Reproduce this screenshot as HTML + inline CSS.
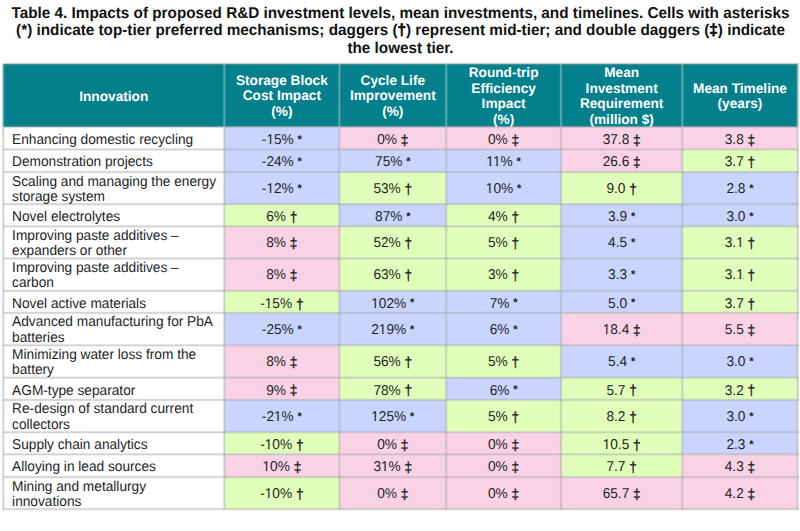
<!DOCTYPE html><html><head><meta charset="utf-8"><style>html,body{margin:0;padding:0;background:#fff;overflow:hidden}svg{display:block}text{font-family:"Liberation Sans",sans-serif;text-rendering:geometricPrecision}</style></head><body>
<svg width="800" height="531" viewBox="0 0 800 531">
<rect width="800" height="531" fill="#fff"/>
<text transform="translate(400.50,17.90) scale(0.9745,1)" text-anchor="middle" font-weight="bold" font-size="15.7" fill="#111111">Table 4. Impacts of proposed R&amp;D investment levels, mean investments, and timelines. Cells with asterisks</text>
<text transform="translate(400.50,35.10) scale(0.9745,1)" text-anchor="middle" font-weight="bold" font-size="15.7" fill="#111111">(*) indicate top-tier preferred mechanisms; daggers (<tspan stroke="#111111" stroke-width="0.7">†</tspan>) represent mid-tier; and double daggers (<tspan stroke="#111111" stroke-width="0.7">‡</tspan>) indicate</text>
<text transform="translate(400.50,52.50) scale(0.9745,1)" text-anchor="middle" font-weight="bold" font-size="15.7" fill="#111111">the lowest tier.</text>
<rect x="2.7" y="63.9" width="795.4" height="63.00000000000001" fill="#03808c"/>
<rect x="224.3" y="126.9" width="115.10" height="22.50" fill="#c9d5ff"/>
<rect x="339.4" y="126.9" width="106.80" height="22.50" fill="#f9d3e5"/>
<rect x="446.2" y="126.9" width="114.80" height="22.50" fill="#f9d3e5"/>
<rect x="561.0" y="126.9" width="121.30" height="22.50" fill="#f9d3e5"/>
<rect x="682.3" y="126.9" width="115.30" height="22.50" fill="#f9d3e5"/>
<rect x="224.3" y="149.4" width="115.10" height="22.70" fill="#c9d5ff"/>
<rect x="339.4" y="149.4" width="106.80" height="22.70" fill="#c9d5ff"/>
<rect x="446.2" y="149.4" width="114.80" height="22.70" fill="#c9d5ff"/>
<rect x="561.0" y="149.4" width="121.30" height="22.70" fill="#f9d3e5"/>
<rect x="682.3" y="149.4" width="115.30" height="22.70" fill="#e0ffba"/>
<rect x="224.3" y="172.1" width="115.10" height="32.10" fill="#c9d5ff"/>
<rect x="339.4" y="172.1" width="106.80" height="32.10" fill="#e0ffba"/>
<rect x="446.2" y="172.1" width="114.80" height="32.10" fill="#c9d5ff"/>
<rect x="561.0" y="172.1" width="121.30" height="32.10" fill="#e0ffba"/>
<rect x="682.3" y="172.1" width="115.30" height="32.10" fill="#c9d5ff"/>
<rect x="224.3" y="204.2" width="115.10" height="22.10" fill="#e0ffba"/>
<rect x="339.4" y="204.2" width="106.80" height="22.10" fill="#c9d5ff"/>
<rect x="446.2" y="204.2" width="114.80" height="22.10" fill="#e0ffba"/>
<rect x="561.0" y="204.2" width="121.30" height="22.10" fill="#c9d5ff"/>
<rect x="682.3" y="204.2" width="115.30" height="22.10" fill="#c9d5ff"/>
<rect x="224.3" y="226.3" width="115.10" height="32.20" fill="#f9d3e5"/>
<rect x="339.4" y="226.3" width="106.80" height="32.20" fill="#e0ffba"/>
<rect x="446.2" y="226.3" width="114.80" height="32.20" fill="#e0ffba"/>
<rect x="561.0" y="226.3" width="121.30" height="32.20" fill="#c9d5ff"/>
<rect x="682.3" y="226.3" width="115.30" height="32.20" fill="#e0ffba"/>
<rect x="224.3" y="258.5" width="115.10" height="32.30" fill="#f9d3e5"/>
<rect x="339.4" y="258.5" width="106.80" height="32.30" fill="#e0ffba"/>
<rect x="446.2" y="258.5" width="114.80" height="32.30" fill="#e0ffba"/>
<rect x="561.0" y="258.5" width="121.30" height="32.30" fill="#c9d5ff"/>
<rect x="682.3" y="258.5" width="115.30" height="32.30" fill="#e0ffba"/>
<rect x="224.3" y="290.8" width="115.10" height="22.10" fill="#e0ffba"/>
<rect x="339.4" y="290.8" width="106.80" height="22.10" fill="#c9d5ff"/>
<rect x="446.2" y="290.8" width="114.80" height="22.10" fill="#c9d5ff"/>
<rect x="561.0" y="290.8" width="121.30" height="22.10" fill="#c9d5ff"/>
<rect x="682.3" y="290.8" width="115.30" height="22.10" fill="#e0ffba"/>
<rect x="224.3" y="312.9" width="115.10" height="32.40" fill="#c9d5ff"/>
<rect x="339.4" y="312.9" width="106.80" height="32.40" fill="#c9d5ff"/>
<rect x="446.2" y="312.9" width="114.80" height="32.40" fill="#c9d5ff"/>
<rect x="561.0" y="312.9" width="121.30" height="32.40" fill="#f9d3e5"/>
<rect x="682.3" y="312.9" width="115.30" height="32.40" fill="#f9d3e5"/>
<rect x="224.3" y="345.3" width="115.10" height="32.40" fill="#f9d3e5"/>
<rect x="339.4" y="345.3" width="106.80" height="32.40" fill="#e0ffba"/>
<rect x="446.2" y="345.3" width="114.80" height="32.40" fill="#e0ffba"/>
<rect x="561.0" y="345.3" width="121.30" height="32.40" fill="#c9d5ff"/>
<rect x="682.3" y="345.3" width="115.30" height="32.40" fill="#c9d5ff"/>
<rect x="224.3" y="377.7" width="115.10" height="22.20" fill="#f9d3e5"/>
<rect x="339.4" y="377.7" width="106.80" height="22.20" fill="#e0ffba"/>
<rect x="446.2" y="377.7" width="114.80" height="22.20" fill="#c9d5ff"/>
<rect x="561.0" y="377.7" width="121.30" height="22.20" fill="#e0ffba"/>
<rect x="682.3" y="377.7" width="115.30" height="22.20" fill="#e0ffba"/>
<rect x="224.3" y="399.9" width="115.10" height="32.30" fill="#c9d5ff"/>
<rect x="339.4" y="399.9" width="106.80" height="32.30" fill="#c9d5ff"/>
<rect x="446.2" y="399.9" width="114.80" height="32.30" fill="#e0ffba"/>
<rect x="561.0" y="399.9" width="121.30" height="32.30" fill="#e0ffba"/>
<rect x="682.3" y="399.9" width="115.30" height="32.30" fill="#c9d5ff"/>
<rect x="224.3" y="432.2" width="115.10" height="22.10" fill="#e0ffba"/>
<rect x="339.4" y="432.2" width="106.80" height="22.10" fill="#f9d3e5"/>
<rect x="446.2" y="432.2" width="114.80" height="22.10" fill="#f9d3e5"/>
<rect x="561.0" y="432.2" width="121.30" height="22.10" fill="#e0ffba"/>
<rect x="682.3" y="432.2" width="115.30" height="22.10" fill="#c9d5ff"/>
<rect x="224.3" y="454.3" width="115.10" height="22.80" fill="#f9d3e5"/>
<rect x="339.4" y="454.3" width="106.80" height="22.80" fill="#f9d3e5"/>
<rect x="446.2" y="454.3" width="114.80" height="22.80" fill="#f9d3e5"/>
<rect x="561.0" y="454.3" width="121.30" height="22.80" fill="#e0ffba"/>
<rect x="682.3" y="454.3" width="115.30" height="22.80" fill="#f9d3e5"/>
<rect x="224.3" y="477.1" width="115.10" height="32.00" fill="#e0ffba"/>
<rect x="339.4" y="477.1" width="106.80" height="32.00" fill="#f9d3e5"/>
<rect x="446.2" y="477.1" width="114.80" height="32.00" fill="#f9d3e5"/>
<rect x="561.0" y="477.1" width="121.30" height="32.00" fill="#f9d3e5"/>
<rect x="682.3" y="477.1" width="115.30" height="32.00" fill="#f9d3e5"/>
<g shape-rendering="crispEdges">
<rect x="3" y="125" width="796" height="1" fill="#a5a5a5" fill-opacity="0.096"/>
<rect x="3" y="126" width="796" height="1" fill="#a5a5a5" fill-opacity="0.458"/>
<rect x="3" y="127" width="796" height="1" fill="#a5a5a5" fill-opacity="0.385"/>
<rect x="3" y="128" width="796" height="1" fill="#a5a5a5" fill-opacity="0.057"/>
<rect x="3" y="147" width="796" height="1" fill="#a5a5a5" fill-opacity="0.022"/>
<rect x="3" y="148" width="796" height="1" fill="#a5a5a5" fill-opacity="0.261"/>
<rect x="3" y="149" width="796" height="1" fill="#a5a5a5" fill-opacity="0.520"/>
<rect x="3" y="150" width="796" height="1" fill="#a5a5a5" fill-opacity="0.185"/>
<rect x="3" y="170" width="796" height="1" fill="#a5a5a5" fill-opacity="0.057"/>
<rect x="3" y="171" width="796" height="1" fill="#a5a5a5" fill-opacity="0.385"/>
<rect x="3" y="172" width="796" height="1" fill="#a5a5a5" fill-opacity="0.458"/>
<rect x="3" y="173" width="796" height="1" fill="#a5a5a5" fill-opacity="0.096"/>
<rect x="3" y="202" width="796" height="1" fill="#a5a5a5" fill-opacity="0.042"/>
<rect x="3" y="203" width="796" height="1" fill="#a5a5a5" fill-opacity="0.344"/>
<rect x="3" y="204" width="796" height="1" fill="#a5a5a5" fill-opacity="0.486"/>
<rect x="3" y="205" width="796" height="1" fill="#a5a5a5" fill-opacity="0.121"/>
<rect x="3" y="224" width="796" height="1" fill="#a5a5a5" fill-opacity="0.031"/>
<rect x="3" y="225" width="796" height="1" fill="#a5a5a5" fill-opacity="0.302"/>
<rect x="3" y="226" width="796" height="1" fill="#a5a5a5" fill-opacity="0.507"/>
<rect x="3" y="227" width="796" height="1" fill="#a5a5a5" fill-opacity="0.151"/>
<rect x="3" y="257" width="796" height="1" fill="#a5a5a5" fill-opacity="0.221"/>
<rect x="3" y="258" width="796" height="1" fill="#a5a5a5" fill-opacity="0.525"/>
<rect x="3" y="259" width="796" height="1" fill="#a5a5a5" fill-opacity="0.221"/>
<rect x="3" y="289" width="796" height="1" fill="#a5a5a5" fill-opacity="0.121"/>
<rect x="3" y="290" width="796" height="1" fill="#a5a5a5" fill-opacity="0.486"/>
<rect x="3" y="291" width="796" height="1" fill="#a5a5a5" fill-opacity="0.344"/>
<rect x="3" y="292" width="796" height="1" fill="#a5a5a5" fill-opacity="0.042"/>
<rect x="3" y="311" width="796" height="1" fill="#a5a5a5" fill-opacity="0.096"/>
<rect x="3" y="312" width="796" height="1" fill="#a5a5a5" fill-opacity="0.458"/>
<rect x="3" y="313" width="796" height="1" fill="#a5a5a5" fill-opacity="0.385"/>
<rect x="3" y="314" width="796" height="1" fill="#a5a5a5" fill-opacity="0.057"/>
<rect x="3" y="343" width="796" height="1" fill="#a5a5a5" fill-opacity="0.031"/>
<rect x="3" y="344" width="796" height="1" fill="#a5a5a5" fill-opacity="0.302"/>
<rect x="3" y="345" width="796" height="1" fill="#a5a5a5" fill-opacity="0.507"/>
<rect x="3" y="346" width="796" height="1" fill="#a5a5a5" fill-opacity="0.151"/>
<rect x="3" y="376" width="796" height="1" fill="#a5a5a5" fill-opacity="0.151"/>
<rect x="3" y="377" width="796" height="1" fill="#a5a5a5" fill-opacity="0.507"/>
<rect x="3" y="378" width="796" height="1" fill="#a5a5a5" fill-opacity="0.302"/>
<rect x="3" y="379" width="796" height="1" fill="#a5a5a5" fill-opacity="0.031"/>
<rect x="3" y="398" width="796" height="1" fill="#a5a5a5" fill-opacity="0.096"/>
<rect x="3" y="399" width="796" height="1" fill="#a5a5a5" fill-opacity="0.458"/>
<rect x="3" y="400" width="796" height="1" fill="#a5a5a5" fill-opacity="0.385"/>
<rect x="3" y="401" width="796" height="1" fill="#a5a5a5" fill-opacity="0.057"/>
<rect x="3" y="430" width="796" height="1" fill="#a5a5a5" fill-opacity="0.042"/>
<rect x="3" y="431" width="796" height="1" fill="#a5a5a5" fill-opacity="0.344"/>
<rect x="3" y="432" width="796" height="1" fill="#a5a5a5" fill-opacity="0.486"/>
<rect x="3" y="433" width="796" height="1" fill="#a5a5a5" fill-opacity="0.121"/>
<rect x="3" y="452" width="796" height="1" fill="#a5a5a5" fill-opacity="0.031"/>
<rect x="3" y="453" width="796" height="1" fill="#a5a5a5" fill-opacity="0.302"/>
<rect x="3" y="454" width="796" height="1" fill="#a5a5a5" fill-opacity="0.507"/>
<rect x="3" y="455" width="796" height="1" fill="#a5a5a5" fill-opacity="0.151"/>
<rect x="3" y="475" width="796" height="1" fill="#a5a5a5" fill-opacity="0.057"/>
<rect x="3" y="476" width="796" height="1" fill="#a5a5a5" fill-opacity="0.385"/>
<rect x="3" y="477" width="796" height="1" fill="#a5a5a5" fill-opacity="0.458"/>
<rect x="3" y="478" width="796" height="1" fill="#a5a5a5" fill-opacity="0.096"/>
<rect x="3" y="507" width="796" height="1" fill="#a5a5a5" fill-opacity="0.057"/>
<rect x="3" y="508" width="796" height="1" fill="#a5a5a5" fill-opacity="0.385"/>
<rect x="3" y="509" width="796" height="1" fill="#a5a5a5" fill-opacity="0.458"/>
<rect x="3" y="510" width="796" height="1" fill="#a5a5a5" fill-opacity="0.096"/>
<rect x="1" y="127" width="1" height="383" fill="#a5a5a5" fill-opacity="0.042"/>
<rect x="2" y="127" width="1" height="383" fill="#a5a5a5" fill-opacity="0.344"/>
<rect x="3" y="127" width="1" height="383" fill="#a5a5a5" fill-opacity="0.486"/>
<rect x="4" y="127" width="1" height="383" fill="#a5a5a5" fill-opacity="0.121"/>
<rect x="222" y="127" width="1" height="383" fill="#a5a5a5" fill-opacity="0.031"/>
<rect x="223" y="127" width="1" height="383" fill="#a5a5a5" fill-opacity="0.302"/>
<rect x="224" y="127" width="1" height="383" fill="#a5a5a5" fill-opacity="0.507"/>
<rect x="225" y="127" width="1" height="383" fill="#a5a5a5" fill-opacity="0.151"/>
<rect x="337" y="127" width="1" height="383" fill="#a5a5a5" fill-opacity="0.022"/>
<rect x="338" y="127" width="1" height="383" fill="#a5a5a5" fill-opacity="0.261"/>
<rect x="339" y="127" width="1" height="383" fill="#a5a5a5" fill-opacity="0.520"/>
<rect x="340" y="127" width="1" height="383" fill="#a5a5a5" fill-opacity="0.185"/>
<rect x="444" y="127" width="1" height="383" fill="#a5a5a5" fill-opacity="0.042"/>
<rect x="445" y="127" width="1" height="383" fill="#a5a5a5" fill-opacity="0.344"/>
<rect x="446" y="127" width="1" height="383" fill="#a5a5a5" fill-opacity="0.486"/>
<rect x="447" y="127" width="1" height="383" fill="#a5a5a5" fill-opacity="0.121"/>
<rect x="559" y="127" width="1" height="383" fill="#a5a5a5" fill-opacity="0.074"/>
<rect x="560" y="127" width="1" height="383" fill="#a5a5a5" fill-opacity="0.423"/>
<rect x="561" y="127" width="1" height="383" fill="#a5a5a5" fill-opacity="0.423"/>
<rect x="562" y="127" width="1" height="383" fill="#a5a5a5" fill-opacity="0.074"/>
<rect x="680" y="127" width="1" height="383" fill="#a5a5a5" fill-opacity="0.031"/>
<rect x="681" y="127" width="1" height="383" fill="#a5a5a5" fill-opacity="0.302"/>
<rect x="682" y="127" width="1" height="383" fill="#a5a5a5" fill-opacity="0.507"/>
<rect x="683" y="127" width="1" height="383" fill="#a5a5a5" fill-opacity="0.151"/>
<rect x="796" y="127" width="1" height="383" fill="#a5a5a5" fill-opacity="0.185"/>
<rect x="797" y="127" width="1" height="383" fill="#a5a5a5" fill-opacity="0.520"/>
<rect x="798" y="127" width="1" height="383" fill="#a5a5a5" fill-opacity="0.261"/>
<rect x="799" y="127" width="1" height="383" fill="#a5a5a5" fill-opacity="0.022"/>
<rect x="1" y="64" width="1" height="63" fill="#c0cfd0" fill-opacity="0.042"/>
<rect x="2" y="64" width="1" height="63" fill="#c0cfd0" fill-opacity="0.344"/>
<rect x="3" y="64" width="1" height="63" fill="#c0cfd0" fill-opacity="0.486"/>
<rect x="4" y="64" width="1" height="63" fill="#c0cfd0" fill-opacity="0.121"/>
<rect x="222" y="64" width="1" height="63" fill="#c0cfd0" fill-opacity="0.031"/>
<rect x="223" y="64" width="1" height="63" fill="#c0cfd0" fill-opacity="0.302"/>
<rect x="224" y="64" width="1" height="63" fill="#c0cfd0" fill-opacity="0.507"/>
<rect x="225" y="64" width="1" height="63" fill="#c0cfd0" fill-opacity="0.151"/>
<rect x="337" y="64" width="1" height="63" fill="#c0cfd0" fill-opacity="0.022"/>
<rect x="338" y="64" width="1" height="63" fill="#c0cfd0" fill-opacity="0.261"/>
<rect x="339" y="64" width="1" height="63" fill="#c0cfd0" fill-opacity="0.520"/>
<rect x="340" y="64" width="1" height="63" fill="#c0cfd0" fill-opacity="0.185"/>
<rect x="444" y="64" width="1" height="63" fill="#c0cfd0" fill-opacity="0.042"/>
<rect x="445" y="64" width="1" height="63" fill="#c0cfd0" fill-opacity="0.344"/>
<rect x="446" y="64" width="1" height="63" fill="#c0cfd0" fill-opacity="0.486"/>
<rect x="447" y="64" width="1" height="63" fill="#c0cfd0" fill-opacity="0.121"/>
<rect x="559" y="64" width="1" height="63" fill="#c0cfd0" fill-opacity="0.074"/>
<rect x="560" y="64" width="1" height="63" fill="#c0cfd0" fill-opacity="0.423"/>
<rect x="561" y="64" width="1" height="63" fill="#c0cfd0" fill-opacity="0.423"/>
<rect x="562" y="64" width="1" height="63" fill="#c0cfd0" fill-opacity="0.074"/>
<rect x="680" y="64" width="1" height="63" fill="#c0cfd0" fill-opacity="0.031"/>
<rect x="681" y="64" width="1" height="63" fill="#c0cfd0" fill-opacity="0.302"/>
<rect x="682" y="64" width="1" height="63" fill="#c0cfd0" fill-opacity="0.507"/>
<rect x="683" y="64" width="1" height="63" fill="#c0cfd0" fill-opacity="0.151"/>
<rect x="796" y="64" width="1" height="63" fill="#c0cfd0" fill-opacity="0.185"/>
<rect x="797" y="64" width="1" height="63" fill="#c0cfd0" fill-opacity="0.520"/>
<rect x="798" y="64" width="1" height="63" fill="#c0cfd0" fill-opacity="0.261"/>
<rect x="799" y="64" width="1" height="63" fill="#c0cfd0" fill-opacity="0.022"/>
<rect x="3" y="62" width="796" height="1" fill="#a5a5a5" fill-opacity="0.096"/>
<rect x="3" y="63" width="796" height="1" fill="#a5a5a5" fill-opacity="0.458"/>
<rect x="3" y="64" width="796" height="1" fill="#a5a5a5" fill-opacity="0.385"/>
<rect x="3" y="65" width="796" height="1" fill="#a5a5a5" fill-opacity="0.057"/>
</g>
<text transform="translate(113.75,100.60) scale(0.9900,1)" text-anchor="middle" font-weight="bold" font-size="13.8" fill="#fff">Innovation</text>
<text transform="translate(281.85,85.00) scale(0.9900,1)" text-anchor="middle" font-weight="bold" font-size="13.8" fill="#fff">Storage Block</text>
<text transform="translate(281.85,100.40) scale(0.9900,1)" text-anchor="middle" font-weight="bold" font-size="13.8" fill="#fff">Cost Impact</text>
<text transform="translate(281.85,115.80) scale(0.9900,1)" text-anchor="middle" font-weight="bold" font-size="13.8" fill="#fff">(%)</text>
<text transform="translate(392.80,85.00) scale(0.9900,1)" text-anchor="middle" font-weight="bold" font-size="13.8" fill="#fff">Cycle Life</text>
<text transform="translate(392.80,100.40) scale(0.9900,1)" text-anchor="middle" font-weight="bold" font-size="13.8" fill="#fff">Improvement</text>
<text transform="translate(392.80,115.80) scale(0.9900,1)" text-anchor="middle" font-weight="bold" font-size="13.8" fill="#fff">(%)</text>
<text transform="translate(503.60,77.30) scale(0.9900,1)" text-anchor="middle" font-weight="bold" font-size="13.8" fill="#fff">Round-trip</text>
<text transform="translate(503.60,92.70) scale(0.9900,1)" text-anchor="middle" font-weight="bold" font-size="13.8" fill="#fff">Efficiency</text>
<text transform="translate(503.60,108.10) scale(0.9900,1)" text-anchor="middle" font-weight="bold" font-size="13.8" fill="#fff">Impact</text>
<text transform="translate(503.60,123.50) scale(0.9900,1)" text-anchor="middle" font-weight="bold" font-size="13.8" fill="#fff">(%)</text>
<text transform="translate(621.65,77.30) scale(0.9900,1)" text-anchor="middle" font-weight="bold" font-size="13.8" fill="#fff">Mean</text>
<text transform="translate(621.65,92.70) scale(0.9900,1)" text-anchor="middle" font-weight="bold" font-size="13.8" fill="#fff">Investment</text>
<text transform="translate(621.65,108.10) scale(0.9900,1)" text-anchor="middle" font-weight="bold" font-size="13.8" fill="#fff">Requirement</text>
<text transform="translate(621.65,123.50) scale(0.9900,1)" text-anchor="middle" font-weight="bold" font-size="13.8" fill="#fff">(million $)</text>
<text transform="translate(739.95,92.70) scale(0.9900,1)" text-anchor="middle" font-weight="bold" font-size="13.8" fill="#fff">Mean Timeline</text>
<text transform="translate(739.95,108.10) scale(0.9900,1)" text-anchor="middle" font-weight="bold" font-size="13.8" fill="#fff">(years)</text>
<text transform="translate(12.10,143.80) scale(0.9648,1)" font-size="14.2" fill="#1e1e1e">Enhancing domestic recycling</text>
<text transform="translate(281.85,143.80) scale(0.9648,1)" text-anchor="middle" font-size="14.2" fill="#1e1e1e">-15% <tspan font-size="11.4" font-weight="bold" dy="-1.3">*</tspan></text>
<text transform="translate(392.80,143.80) scale(0.9648,1)" text-anchor="middle" font-size="14.2" fill="#1e1e1e">0% <tspan stroke="#1e1e1e" stroke-width="0.35" dy="0.8">‡</tspan></text>
<text transform="translate(503.60,143.80) scale(0.9648,1)" text-anchor="middle" font-size="14.2" fill="#1e1e1e">0% <tspan stroke="#1e1e1e" stroke-width="0.35" dy="0.8">‡</tspan></text>
<text transform="translate(621.65,143.80) scale(0.9648,1)" text-anchor="middle" font-size="14.2" fill="#1e1e1e">37.8 <tspan stroke="#1e1e1e" stroke-width="0.35" dy="0.8">‡</tspan></text>
<text transform="translate(739.95,143.80) scale(0.9648,1)" text-anchor="middle" font-size="14.2" fill="#1e1e1e">3.8 <tspan stroke="#1e1e1e" stroke-width="0.35" dy="0.8">‡</tspan></text>
<text transform="translate(12.10,166.30) scale(0.9648,1)" font-size="14.2" fill="#1e1e1e">Demonstration projects</text>
<text transform="translate(281.85,166.30) scale(0.9648,1)" text-anchor="middle" font-size="14.2" fill="#1e1e1e">-24% <tspan font-size="11.4" font-weight="bold" dy="-1.3">*</tspan></text>
<text transform="translate(392.80,166.30) scale(0.9648,1)" text-anchor="middle" font-size="14.2" fill="#1e1e1e">75% <tspan font-size="11.4" font-weight="bold" dy="-1.3">*</tspan></text>
<text transform="translate(503.60,166.30) scale(0.9648,1)" text-anchor="middle" font-size="14.2" fill="#1e1e1e">11% <tspan font-size="11.4" font-weight="bold" dy="-1.3">*</tspan></text>
<text transform="translate(621.65,166.30) scale(0.9648,1)" text-anchor="middle" font-size="14.2" fill="#1e1e1e">26.6 <tspan stroke="#1e1e1e" stroke-width="0.35" dy="0.8">‡</tspan></text>
<text transform="translate(739.95,166.30) scale(0.9648,1)" text-anchor="middle" font-size="14.2" fill="#1e1e1e">3.7 <tspan stroke="#1e1e1e" stroke-width="0.35" dy="0.8">†</tspan></text>
<text transform="translate(12.10,185.60) scale(0.9648,1)" font-size="14.2" fill="#1e1e1e">Scaling and managing the energy</text>
<text transform="translate(12.10,200.90) scale(0.9648,1)" font-size="14.2" fill="#1e1e1e">storage system</text>
<text transform="translate(281.85,192.95) scale(0.9648,1)" text-anchor="middle" font-size="14.2" fill="#1e1e1e">-12% <tspan font-size="11.4" font-weight="bold" dy="-1.3">*</tspan></text>
<text transform="translate(392.80,192.95) scale(0.9648,1)" text-anchor="middle" font-size="14.2" fill="#1e1e1e">53% <tspan stroke="#1e1e1e" stroke-width="0.35" dy="0.8">†</tspan></text>
<text transform="translate(503.60,192.95) scale(0.9648,1)" text-anchor="middle" font-size="14.2" fill="#1e1e1e">10% <tspan font-size="11.4" font-weight="bold" dy="-1.3">*</tspan></text>
<text transform="translate(621.65,192.95) scale(0.9648,1)" text-anchor="middle" font-size="14.2" fill="#1e1e1e">9.0 <tspan stroke="#1e1e1e" stroke-width="0.35" dy="0.8">†</tspan></text>
<text transform="translate(739.95,192.95) scale(0.9648,1)" text-anchor="middle" font-size="14.2" fill="#1e1e1e">2.8 <tspan font-size="11.4" font-weight="bold" dy="-1.3">*</tspan></text>
<text transform="translate(12.10,221.10) scale(0.9648,1)" font-size="14.2" fill="#1e1e1e">Novel electrolytes</text>
<text transform="translate(281.85,221.10) scale(0.9648,1)" text-anchor="middle" font-size="14.2" fill="#1e1e1e">6% <tspan stroke="#1e1e1e" stroke-width="0.35" dy="0.8">†</tspan></text>
<text transform="translate(392.80,221.10) scale(0.9648,1)" text-anchor="middle" font-size="14.2" fill="#1e1e1e">87% <tspan font-size="11.4" font-weight="bold" dy="-1.3">*</tspan></text>
<text transform="translate(503.60,221.10) scale(0.9648,1)" text-anchor="middle" font-size="14.2" fill="#1e1e1e">4% <tspan stroke="#1e1e1e" stroke-width="0.35" dy="0.8">†</tspan></text>
<text transform="translate(621.65,221.10) scale(0.9648,1)" text-anchor="middle" font-size="14.2" fill="#1e1e1e">3.9 <tspan font-size="11.4" font-weight="bold" dy="-1.3">*</tspan></text>
<text transform="translate(739.95,221.10) scale(0.9648,1)" text-anchor="middle" font-size="14.2" fill="#1e1e1e">3.0 <tspan font-size="11.4" font-weight="bold" dy="-1.3">*</tspan></text>
<text transform="translate(12.10,239.80) scale(0.9648,1)" font-size="14.2" fill="#1e1e1e">Improving paste additives –</text>
<text transform="translate(12.10,255.10) scale(0.9648,1)" font-size="14.2" fill="#1e1e1e">expanders or other</text>
<text transform="translate(281.85,247.20) scale(0.9648,1)" text-anchor="middle" font-size="14.2" fill="#1e1e1e">8% <tspan stroke="#1e1e1e" stroke-width="0.35" dy="0.8">‡</tspan></text>
<text transform="translate(392.80,247.20) scale(0.9648,1)" text-anchor="middle" font-size="14.2" fill="#1e1e1e">52% <tspan stroke="#1e1e1e" stroke-width="0.35" dy="0.8">†</tspan></text>
<text transform="translate(503.60,247.20) scale(0.9648,1)" text-anchor="middle" font-size="14.2" fill="#1e1e1e">5% <tspan stroke="#1e1e1e" stroke-width="0.35" dy="0.8">†</tspan></text>
<text transform="translate(621.65,247.20) scale(0.9648,1)" text-anchor="middle" font-size="14.2" fill="#1e1e1e">4.5 <tspan font-size="11.4" font-weight="bold" dy="-1.3">*</tspan></text>
<text transform="translate(739.95,247.20) scale(0.9648,1)" text-anchor="middle" font-size="14.2" fill="#1e1e1e">3.1 <tspan stroke="#1e1e1e" stroke-width="0.35" dy="0.8">†</tspan></text>
<text transform="translate(12.10,272.00) scale(0.9648,1)" font-size="14.2" fill="#1e1e1e">Improving paste additives –</text>
<text transform="translate(12.10,287.30) scale(0.9648,1)" font-size="14.2" fill="#1e1e1e">carbon</text>
<text transform="translate(281.85,279.45) scale(0.9648,1)" text-anchor="middle" font-size="14.2" fill="#1e1e1e">8% <tspan stroke="#1e1e1e" stroke-width="0.35" dy="0.8">‡</tspan></text>
<text transform="translate(392.80,279.45) scale(0.9648,1)" text-anchor="middle" font-size="14.2" fill="#1e1e1e">63% <tspan stroke="#1e1e1e" stroke-width="0.35" dy="0.8">†</tspan></text>
<text transform="translate(503.60,279.45) scale(0.9648,1)" text-anchor="middle" font-size="14.2" fill="#1e1e1e">3% <tspan stroke="#1e1e1e" stroke-width="0.35" dy="0.8">†</tspan></text>
<text transform="translate(621.65,279.45) scale(0.9648,1)" text-anchor="middle" font-size="14.2" fill="#1e1e1e">3.3 <tspan font-size="11.4" font-weight="bold" dy="-1.3">*</tspan></text>
<text transform="translate(739.95,279.45) scale(0.9648,1)" text-anchor="middle" font-size="14.2" fill="#1e1e1e">3.1 <tspan stroke="#1e1e1e" stroke-width="0.35" dy="0.8">†</tspan></text>
<text transform="translate(12.10,307.70) scale(0.9648,1)" font-size="14.2" fill="#1e1e1e">Novel active materials</text>
<text transform="translate(281.85,307.70) scale(0.9648,1)" text-anchor="middle" font-size="14.2" fill="#1e1e1e">-15% <tspan stroke="#1e1e1e" stroke-width="0.35" dy="0.8">†</tspan></text>
<text transform="translate(392.80,307.70) scale(0.9648,1)" text-anchor="middle" font-size="14.2" fill="#1e1e1e">102% <tspan font-size="11.4" font-weight="bold" dy="-1.3">*</tspan></text>
<text transform="translate(503.60,307.70) scale(0.9648,1)" text-anchor="middle" font-size="14.2" fill="#1e1e1e">7% <tspan font-size="11.4" font-weight="bold" dy="-1.3">*</tspan></text>
<text transform="translate(621.65,307.70) scale(0.9648,1)" text-anchor="middle" font-size="14.2" fill="#1e1e1e">5.0 <tspan font-size="11.4" font-weight="bold" dy="-1.3">*</tspan></text>
<text transform="translate(739.95,307.70) scale(0.9648,1)" text-anchor="middle" font-size="14.2" fill="#1e1e1e">3.7 <tspan stroke="#1e1e1e" stroke-width="0.35" dy="0.8">†</tspan></text>
<text transform="translate(12.10,326.40) scale(0.9648,1)" font-size="14.2" fill="#1e1e1e">Advanced manufacturing for PbA</text>
<text transform="translate(12.10,341.70) scale(0.9648,1)" font-size="14.2" fill="#1e1e1e">batteries</text>
<text transform="translate(281.85,333.90) scale(0.9648,1)" text-anchor="middle" font-size="14.2" fill="#1e1e1e">-25% <tspan font-size="11.4" font-weight="bold" dy="-1.3">*</tspan></text>
<text transform="translate(392.80,333.90) scale(0.9648,1)" text-anchor="middle" font-size="14.2" fill="#1e1e1e">219% <tspan font-size="11.4" font-weight="bold" dy="-1.3">*</tspan></text>
<text transform="translate(503.60,333.90) scale(0.9648,1)" text-anchor="middle" font-size="14.2" fill="#1e1e1e">6% <tspan font-size="11.4" font-weight="bold" dy="-1.3">*</tspan></text>
<text transform="translate(621.65,333.90) scale(0.9648,1)" text-anchor="middle" font-size="14.2" fill="#1e1e1e">18.4 <tspan stroke="#1e1e1e" stroke-width="0.35" dy="0.8">‡</tspan></text>
<text transform="translate(739.95,333.90) scale(0.9648,1)" text-anchor="middle" font-size="14.2" fill="#1e1e1e">5.5 <tspan stroke="#1e1e1e" stroke-width="0.35" dy="0.8">‡</tspan></text>
<text transform="translate(12.10,358.80) scale(0.9648,1)" font-size="14.2" fill="#1e1e1e">Minimizing water loss from the</text>
<text transform="translate(12.10,374.10) scale(0.9648,1)" font-size="14.2" fill="#1e1e1e">battery</text>
<text transform="translate(281.85,366.30) scale(0.9648,1)" text-anchor="middle" font-size="14.2" fill="#1e1e1e">8% <tspan stroke="#1e1e1e" stroke-width="0.35" dy="0.8">‡</tspan></text>
<text transform="translate(392.80,366.30) scale(0.9648,1)" text-anchor="middle" font-size="14.2" fill="#1e1e1e">56% <tspan stroke="#1e1e1e" stroke-width="0.35" dy="0.8">†</tspan></text>
<text transform="translate(503.60,366.30) scale(0.9648,1)" text-anchor="middle" font-size="14.2" fill="#1e1e1e">5% <tspan stroke="#1e1e1e" stroke-width="0.35" dy="0.8">†</tspan></text>
<text transform="translate(621.65,366.30) scale(0.9648,1)" text-anchor="middle" font-size="14.2" fill="#1e1e1e">5.4 <tspan font-size="11.4" font-weight="bold" dy="-1.3">*</tspan></text>
<text transform="translate(739.95,366.30) scale(0.9648,1)" text-anchor="middle" font-size="14.2" fill="#1e1e1e">3.0 <tspan font-size="11.4" font-weight="bold" dy="-1.3">*</tspan></text>
<text transform="translate(12.10,394.60) scale(0.9648,1)" font-size="14.2" fill="#1e1e1e">AGM-type separator</text>
<text transform="translate(281.85,394.60) scale(0.9648,1)" text-anchor="middle" font-size="14.2" fill="#1e1e1e">9% <tspan stroke="#1e1e1e" stroke-width="0.35" dy="0.8">‡</tspan></text>
<text transform="translate(392.80,394.60) scale(0.9648,1)" text-anchor="middle" font-size="14.2" fill="#1e1e1e">78% <tspan stroke="#1e1e1e" stroke-width="0.35" dy="0.8">†</tspan></text>
<text transform="translate(503.60,394.60) scale(0.9648,1)" text-anchor="middle" font-size="14.2" fill="#1e1e1e">6% <tspan font-size="11.4" font-weight="bold" dy="-1.3">*</tspan></text>
<text transform="translate(621.65,394.60) scale(0.9648,1)" text-anchor="middle" font-size="14.2" fill="#1e1e1e">5.7 <tspan stroke="#1e1e1e" stroke-width="0.35" dy="0.8">†</tspan></text>
<text transform="translate(739.95,394.60) scale(0.9648,1)" text-anchor="middle" font-size="14.2" fill="#1e1e1e">3.2 <tspan stroke="#1e1e1e" stroke-width="0.35" dy="0.8">†</tspan></text>
<text transform="translate(12.10,413.40) scale(0.9648,1)" font-size="14.2" fill="#1e1e1e">Re-design of standard current</text>
<text transform="translate(12.10,428.70) scale(0.9648,1)" font-size="14.2" fill="#1e1e1e">collectors</text>
<text transform="translate(281.85,420.85) scale(0.9648,1)" text-anchor="middle" font-size="14.2" fill="#1e1e1e">-21% <tspan font-size="11.4" font-weight="bold" dy="-1.3">*</tspan></text>
<text transform="translate(392.80,420.85) scale(0.9648,1)" text-anchor="middle" font-size="14.2" fill="#1e1e1e">125% <tspan font-size="11.4" font-weight="bold" dy="-1.3">*</tspan></text>
<text transform="translate(503.60,420.85) scale(0.9648,1)" text-anchor="middle" font-size="14.2" fill="#1e1e1e">5% <tspan stroke="#1e1e1e" stroke-width="0.35" dy="0.8">†</tspan></text>
<text transform="translate(621.65,420.85) scale(0.9648,1)" text-anchor="middle" font-size="14.2" fill="#1e1e1e">8.2 <tspan stroke="#1e1e1e" stroke-width="0.35" dy="0.8">†</tspan></text>
<text transform="translate(739.95,420.85) scale(0.9648,1)" text-anchor="middle" font-size="14.2" fill="#1e1e1e">3.0 <tspan font-size="11.4" font-weight="bold" dy="-1.3">*</tspan></text>
<text transform="translate(12.10,449.10) scale(0.9648,1)" font-size="14.2" fill="#1e1e1e">Supply chain analytics</text>
<text transform="translate(281.85,449.10) scale(0.9648,1)" text-anchor="middle" font-size="14.2" fill="#1e1e1e">-10% <tspan stroke="#1e1e1e" stroke-width="0.35" dy="0.8">†</tspan></text>
<text transform="translate(392.80,449.10) scale(0.9648,1)" text-anchor="middle" font-size="14.2" fill="#1e1e1e">0% <tspan stroke="#1e1e1e" stroke-width="0.35" dy="0.8">‡</tspan></text>
<text transform="translate(503.60,449.10) scale(0.9648,1)" text-anchor="middle" font-size="14.2" fill="#1e1e1e">0% <tspan stroke="#1e1e1e" stroke-width="0.35" dy="0.8">‡</tspan></text>
<text transform="translate(621.65,449.10) scale(0.9648,1)" text-anchor="middle" font-size="14.2" fill="#1e1e1e">10.5 <tspan stroke="#1e1e1e" stroke-width="0.35" dy="0.8">†</tspan></text>
<text transform="translate(739.95,449.10) scale(0.9648,1)" text-anchor="middle" font-size="14.2" fill="#1e1e1e">2.3 <tspan font-size="11.4" font-weight="bold" dy="-1.3">*</tspan></text>
<text transform="translate(12.10,471.20) scale(0.9648,1)" font-size="14.2" fill="#1e1e1e">Alloying in lead sources</text>
<text transform="translate(281.85,471.20) scale(0.9648,1)" text-anchor="middle" font-size="14.2" fill="#1e1e1e">10% <tspan stroke="#1e1e1e" stroke-width="0.35" dy="0.8">‡</tspan></text>
<text transform="translate(392.80,471.20) scale(0.9648,1)" text-anchor="middle" font-size="14.2" fill="#1e1e1e">31% <tspan stroke="#1e1e1e" stroke-width="0.35" dy="0.8">‡</tspan></text>
<text transform="translate(503.60,471.20) scale(0.9648,1)" text-anchor="middle" font-size="14.2" fill="#1e1e1e">0% <tspan stroke="#1e1e1e" stroke-width="0.35" dy="0.8">‡</tspan></text>
<text transform="translate(621.65,471.20) scale(0.9648,1)" text-anchor="middle" font-size="14.2" fill="#1e1e1e">7.7 <tspan stroke="#1e1e1e" stroke-width="0.35" dy="0.8">†</tspan></text>
<text transform="translate(739.95,471.20) scale(0.9648,1)" text-anchor="middle" font-size="14.2" fill="#1e1e1e">4.3 <tspan stroke="#1e1e1e" stroke-width="0.35" dy="0.8">‡</tspan></text>
<text transform="translate(12.10,490.60) scale(0.9648,1)" font-size="14.2" fill="#1e1e1e">Mining and metallurgy</text>
<text transform="translate(12.10,505.90) scale(0.9648,1)" font-size="14.2" fill="#1e1e1e">innovations</text>
<text transform="translate(281.85,497.90) scale(0.9648,1)" text-anchor="middle" font-size="14.2" fill="#1e1e1e">-10% <tspan stroke="#1e1e1e" stroke-width="0.35" dy="0.8">†</tspan></text>
<text transform="translate(392.80,497.90) scale(0.9648,1)" text-anchor="middle" font-size="14.2" fill="#1e1e1e">0% <tspan stroke="#1e1e1e" stroke-width="0.35" dy="0.8">‡</tspan></text>
<text transform="translate(503.60,497.90) scale(0.9648,1)" text-anchor="middle" font-size="14.2" fill="#1e1e1e">0% <tspan stroke="#1e1e1e" stroke-width="0.35" dy="0.8">‡</tspan></text>
<text transform="translate(621.65,497.90) scale(0.9648,1)" text-anchor="middle" font-size="14.2" fill="#1e1e1e">65.7 <tspan stroke="#1e1e1e" stroke-width="0.35" dy="0.8">‡</tspan></text>
<text transform="translate(739.95,497.90) scale(0.9648,1)" text-anchor="middle" font-size="14.2" fill="#1e1e1e">4.2 <tspan stroke="#1e1e1e" stroke-width="0.35" dy="0.8">‡</tspan></text>
<rect x="266.99" y="142.59" width="2.78" height="1.39" fill="#c9d5ff"/>
<rect x="271.11" y="142.59" width="2.70" height="1.39" fill="#c9d5ff"/>
<rect x="486.96" y="165.09" width="2.78" height="1.39" fill="#c9d5ff"/>
<rect x="491.08" y="165.09" width="2.70" height="1.39" fill="#c9d5ff"/>
<rect x="493.55" y="165.09" width="2.78" height="1.39" fill="#c9d5ff"/>
<rect x="497.67" y="165.09" width="2.70" height="1.39" fill="#c9d5ff"/>
<rect x="266.99" y="191.74" width="2.78" height="1.39" fill="#c9d5ff"/>
<rect x="271.11" y="191.74" width="2.70" height="1.39" fill="#c9d5ff"/>
<rect x="486.46" y="191.74" width="2.78" height="1.39" fill="#c9d5ff"/>
<rect x="490.58" y="191.74" width="2.70" height="1.39" fill="#c9d5ff"/>
<rect x="736.74" y="245.99" width="2.78" height="1.39" fill="#e0ffba"/>
<rect x="740.86" y="245.99" width="2.70" height="1.39" fill="#e0ffba"/>
<rect x="736.74" y="278.24" width="2.78" height="1.39" fill="#e0ffba"/>
<rect x="740.86" y="278.24" width="2.70" height="1.39" fill="#e0ffba"/>
<rect x="265.32" y="306.49" width="2.78" height="1.39" fill="#e0ffba"/>
<rect x="269.44" y="306.49" width="2.70" height="1.39" fill="#e0ffba"/>
<rect x="371.85" y="306.49" width="2.78" height="1.39" fill="#c9d5ff"/>
<rect x="375.97" y="306.49" width="2.70" height="1.39" fill="#c9d5ff"/>
<rect x="379.45" y="332.69" width="2.78" height="1.39" fill="#c9d5ff"/>
<rect x="383.57" y="332.69" width="2.70" height="1.39" fill="#c9d5ff"/>
<rect x="603.22" y="332.69" width="2.78" height="1.39" fill="#f9d3e5"/>
<rect x="607.34" y="332.69" width="2.70" height="1.39" fill="#f9d3e5"/>
<rect x="274.60" y="419.64" width="2.78" height="1.39" fill="#c9d5ff"/>
<rect x="278.72" y="419.64" width="2.70" height="1.39" fill="#c9d5ff"/>
<rect x="371.85" y="419.64" width="2.78" height="1.39" fill="#c9d5ff"/>
<rect x="375.97" y="419.64" width="2.70" height="1.39" fill="#c9d5ff"/>
<rect x="265.32" y="447.89" width="2.78" height="1.39" fill="#e0ffba"/>
<rect x="269.44" y="447.89" width="2.70" height="1.39" fill="#e0ffba"/>
<rect x="603.22" y="447.89" width="2.78" height="1.39" fill="#e0ffba"/>
<rect x="607.34" y="447.89" width="2.70" height="1.39" fill="#e0ffba"/>
<rect x="263.04" y="469.99" width="2.78" height="1.39" fill="#f9d3e5"/>
<rect x="267.16" y="469.99" width="2.70" height="1.39" fill="#f9d3e5"/>
<rect x="381.59" y="469.99" width="2.78" height="1.39" fill="#f9d3e5"/>
<rect x="385.71" y="469.99" width="2.70" height="1.39" fill="#f9d3e5"/>
<rect x="265.32" y="496.69" width="2.78" height="1.39" fill="#e0ffba"/>
<rect x="269.44" y="496.69" width="2.70" height="1.39" fill="#e0ffba"/>
</svg></body></html>
